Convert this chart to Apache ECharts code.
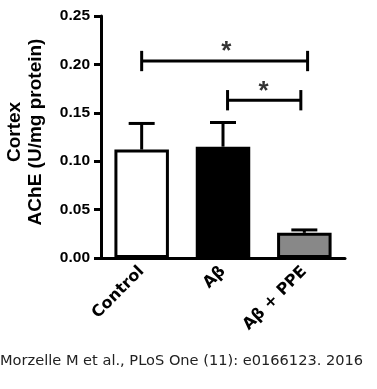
<!DOCTYPE html>
<html><head><meta charset="utf-8">
<script src="https://cdn.jsdelivr.net/npm/echarts@6/dist/echarts.min.js"></script>
<style>html,body{margin:0;padding:0;background:#fff}#c{width:377px;height:389px}</style>
</head><body><div id="c"></div>
<script>
const categories = ['Control', 'A\u03B2', 'A\u03B2 + PPE'];
const means = [0.112, 0.115, 0.026];
const errUpper = [0.139, 0.140, 0.029];
const barColors = ['#ffffff', '#000000', '#888888'];
const yTicks = [0, 0.05, 0.10, 0.15, 0.20, 0.25];
// significance brackets: [x start, x end, y level, tick half height]
const brackets = [[0, 2.04, 0.2035, 0.0105], [1.056, 1.957, 0.163, 0.0105]];
const stars = [[1.04, 0.213], [1.5, 0.172]];

const chart = echarts.init(document.getElementById('c'));
const font = 'Liberation Sans, Arial, sans-serif';
chart.setOption({
  animation: false,
  grid: {left: 101, right: 32, top: 16, bottom: 131, containLabel: false, outerBoundsMode: 'none'},
  xAxis: [{
    type: 'category', data: categories,
    axisLine: {lineStyle: {color: '#000', width: 3}},
    axisTick: {alignWithLabel: true, length: 7, lineStyle: {color: '#000', width: 3}},
    axisLabel: {rotate: 45, color: '#000', fontWeight: 'bold', fontSize: 16, fontFamily: 'DejaVu Sans, sans-serif', margin: 11}
  }, {
    type: 'value', min: -0.5, max: 2.5, show: false
  }],
  yAxis: {
    type: 'value', min: 0, max: 0.25, interval: 0.05,
    name: 'Cortex\nAChE (U/mg protein)', nameLocation: 'middle', nameGap: 55,
    nameTextStyle: {color: '#000', fontWeight: 'bold', fontSize: 19, fontFamily: font, lineHeight: 21, padding: [0, 0, 0, 10]},
    axisLine: {show: true, onZero: false, lineStyle: {color: '#000', width: 3}},
    axisTick: {show: true, length: 7, lineStyle: {color: '#000', width: 3}},
    axisLabel: {color: '#000', fontWeight: 'bold', fontSize: 15.5, fontFamily: font, margin: 11,
      formatter: v => v.toFixed(2)},
    splitLine: {show: false}
  },
  series: [{
    type: 'bar', barWidth: '67%',
    data: means.map((v, i) => ({value: v, itemStyle: {color: barColors[i]}})),
    itemStyle: {borderColor: '#000', borderWidth: 3},
    z: 2
  }, {
    type: 'custom',
    data: errUpper.map((e, i) => [i, means[i], e]),
    renderItem: (params, api) => {
      const base = api.coord([api.value(0), api.value(1)]);
      const top = api.coord([api.value(0), api.value(2)]);
      const hw = 13;
      return {type: 'group', children: [
        {type: 'line', shape: {x1: base[0], y1: base[1], x2: top[0], y2: top[1]}, style: {stroke: '#000', lineWidth: 3}},
        {type: 'line', shape: {x1: top[0] - hw, y1: top[1], x2: top[0] + hw, y2: top[1]}, style: {stroke: '#000', lineWidth: 3}}
      ]};
    },
    z: 1
  }, {
    type: 'custom', xAxisIndex: 1,
    data: brackets,
    renderItem: (params, api) => {
      const a = api.coord([api.value(0), api.value(2)]);
      const b = api.coord([api.value(1), api.value(2)]);
      const t = api.coord([api.value(0), api.value(2) + api.value(3)]);
      const d = a[1] - t[1];
      const st = {stroke: '#000', lineWidth: 3};
      return {type: 'group', children: [
        {type: 'line', shape: {x1: a[0], y1: a[1], x2: b[0], y2: b[1]}, style: st},
        {type: 'line', shape: {x1: a[0], y1: a[1] - d, x2: a[0], y2: a[1] + d}, style: st},
        {type: 'line', shape: {x1: b[0], y1: b[1] - d, x2: b[0], y2: b[1] + d}, style: st}
      ]};
    }
  }, {
    type: 'scatter', xAxisIndex: 1, symbolSize: 0,
    data: stars,
    label: {show: true, position: 'inside', formatter: '*', color: '#000', fontSize: 26, fontWeight: 'bold', fontFamily: font}
  }],
  graphic: [{
    type: 'text', left: 0, top: 354,
    style: {text: 'Morzelle M et al., PLoS One (11): e0166123. 2016', fill: '#222', fontSize: 14.6, fontFamily: 'DejaVu Sans, sans-serif'}
  }]
});
</script></body></html>
